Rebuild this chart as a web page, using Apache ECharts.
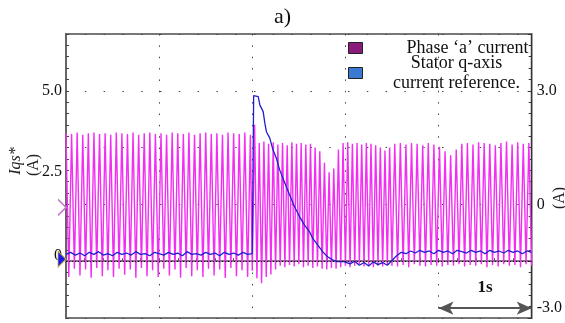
<!DOCTYPE html>
<html>
<head>
<meta charset="utf-8">
<script src="https://cdn.jsdelivr.net/npm/echarts@6/dist/echarts.min.js"></script>
<style>
  html, body { margin: 0; padding: 0; background: #fff; }
  #chart { width: 565px; height: 323px; }
</style>
</head>
<body>
<div id="chart"></div>
<script>
// time in s, current in A (right axis)
const phaseCurrent = [
  [0.00, 1.88], [0.03, -1.92], [0.06, 1.86], [0.09, -1.70], [0.12, 1.90], [0.15, -1.88], [0.18, 1.84], [0.21, -1.72],
  [0.24, 1.88], [0.27, -1.94], [0.30, 1.90], [0.33, -1.68], [0.36, 1.86], [0.39, -1.90], [0.42, 1.88], [0.45, -1.74],
  [0.48, 1.84], [0.51, -1.92], [0.54, 1.90], [0.57, -1.70], [0.60, 1.88], [0.63, -1.86], [0.66, 1.86], [0.69, -1.72],
  [0.72, 1.90], [0.75, -1.94], [0.78, 1.84], [0.81, -1.68], [0.84, 1.88], [0.87, -1.90], [0.90, 1.90], [0.93, -1.74],
  [0.96, 1.86], [0.99, -1.92], [1.02, 1.88], [1.05, -1.70], [1.08, 1.84], [1.11, -1.88], [1.14, 1.90], [1.17, -1.72],
  [1.20, 1.88], [1.23, -1.94], [1.26, 1.86], [1.29, -1.68], [1.32, 1.90], [1.35, -1.90], [1.38, 1.84], [1.41, -1.74],
  [1.44, 1.88], [1.47, -1.92], [1.50, 1.90], [1.53, -1.70], [1.56, 1.86], [1.59, -1.88], [1.62, 1.88], [1.65, -1.72],
  [1.68, 1.84], [1.71, -1.94], [1.74, 1.90], [1.77, -1.68], [1.80, 1.88], [1.83, -1.90], [1.86, 1.86], [1.89, -1.74],
  [1.92, 1.90], [1.95, -1.92], [1.98, 1.84],
  [2.00, -1.75], [2.025, 2.10], [2.05, -1.95], [2.075, 1.62], [2.10, -2.08],
  [2.125, 1.66], [2.150, -1.92], [2.175, 1.60], [2.200, -1.85], [2.225, 1.64], [2.250, -1.72], [2.275, 1.58], [2.300, -1.62],
  [2.325, 1.62], [2.350, -1.66], [2.375, 1.56], [2.400, -1.60], [2.425, 1.64], [2.450, -1.64], [2.475, 1.60], [2.500, -1.58],
  [2.525, 1.62], [2.550, -1.66], [2.575, 1.58], [2.600, -1.62], [2.625, 1.60], [2.650, -1.68], [2.675, 1.50], [2.700, -1.64],
  [2.725, 1.40], [2.750, -1.70], [2.775, 1.10], [2.800, -1.72], [2.825, 0.85], [2.850, -1.68], [2.875, 0.95], [2.900, -1.70],
  [2.925, 1.45], [2.950, -1.66], [2.975, 1.62], [3.000, -1.62], [3.025, 1.64], [3.050, -1.66], [3.075, 1.60], [3.100, -1.62],
  [3.125, 1.62], [3.150, -1.58], [3.175, 1.58], [3.200, -1.64], [3.225, 1.62], [3.250, -1.60], [3.275, 1.60], [3.300, -1.66],
  [3.325, 1.56], [3.350, -1.62], [3.375, 1.50], [3.400, -1.64], [3.425, 1.42], [3.450, -1.60], [3.475, 1.50], [3.500, -1.62],
  [3.53, 1.60], [3.56, -1.64], [3.59, 1.62], [3.62, -1.60], [3.65, 1.58], [3.68, -1.66], [3.71, 1.62], [3.74, -1.58],
  [3.77, 1.60], [3.80, -1.62], [3.83, 1.56], [3.86, -1.64], [3.89, 1.62], [3.92, -1.60], [3.95, 1.58], [3.98, -1.62],
  [4.01, 1.52], [4.04, -1.64], [4.07, 1.40], [4.10, -1.60], [4.13, 1.30], [4.16, -1.62], [4.19, 1.45], [4.22, -1.58],
  [4.25, 1.60], [4.28, -1.64], [4.31, 1.62], [4.34, -1.60], [4.37, 1.58], [4.40, -1.62], [4.43, 1.64], [4.46, -1.58],
  [4.49, 1.62], [4.52, -1.66], [4.55, 1.60], [4.58, -1.60], [4.61, 1.56], [4.64, -1.64], [4.67, 1.62], [4.70, -1.58],
  [4.73, 1.66], [4.76, -1.62], [4.79, 1.58], [4.82, -1.60], [4.85, 1.64], [4.88, -1.66], [4.91, 1.60], [4.94, -1.58],
  [4.97, 1.62], [5.00, -1.62]
]

// time in s, Iqs* in A (left axis)
const qRef = [
  [0.00, 0.20], [0.05, 0.26], [0.10, 0.18], [0.15, 0.24], [0.20, 0.16], [0.25, 0.26], [0.30, 0.20], [0.35, 0.28],
  [0.40, 0.18], [0.45, 0.22], [0.50, 0.16], [0.55, 0.26], [0.60, 0.20], [0.65, 0.24], [0.70, 0.18], [0.75, 0.28],
  [0.80, 0.20], [0.85, 0.22], [0.90, 0.16], [0.95, 0.26], [1.00, 0.22], [1.05, 0.18], [1.10, 0.26], [1.15, 0.20],
  [1.20, 0.24], [1.25, 0.16], [1.30, 0.28], [1.35, 0.20], [1.40, 0.22], [1.45, 0.18], [1.50, 0.26], [1.55, 0.20],
  [1.60, 0.24], [1.65, 0.16], [1.70, 0.26], [1.75, 0.20], [1.80, 0.24], [1.85, 0.18], [1.90, 0.26], [1.95, 0.20],
  [2.00, 0.22], [2.01, 0.22], [2.015, 4.86], [2.028, 4.86], [2.064, 4.83], [2.082, 4.58], [2.117, 4.39], [2.135, 4.05],
  [2.152, 3.80], [2.188, 3.61], [2.223, 3.26], [2.259, 3.02], [2.294, 2.68], [2.330, 2.43], [2.365, 2.19], [2.401, 1.94],
  [2.454, 1.60], [2.507, 1.31], [2.561, 1.06], [2.614, 0.87], [2.649, 0.67], [2.702, 0.48], [2.755, 0.28], [2.809, 0.13],
  [2.862, 0.04], [2.915, -0.01], [2.986, -0.01], [3.05, -0.08], [3.10, 0.00], [3.15, -0.12], [3.20, -0.04], [3.25, -0.14],
  [3.30, -0.02], [3.35, -0.10], [3.40, -0.04], [3.45, -0.12], [3.50, 0.02], [3.55, 0.16], [3.60, 0.26], [3.65, 0.22],
  [3.70, 0.30], [3.75, 0.24], [3.80, 0.32], [3.85, 0.26], [3.90, 0.30], [3.95, 0.22], [4.00, 0.32], [4.05, 0.26],
  [4.10, 0.30], [4.15, 0.22], [4.20, 0.32], [4.25, 0.28], [4.30, 0.24], [4.35, 0.32], [4.40, 0.26], [4.45, 0.30],
  [4.50, 0.22], [4.55, 0.32], [4.60, 0.26], [4.65, 0.30], [4.70, 0.24], [4.75, 0.32], [4.80, 0.26], [4.85, 0.30],
  [4.90, 0.22], [4.95, 0.30], [5.00, 0.26]
]

const leftTicks = [0, 2.5, 5]
const rightTicks = [-3, 0, 3]
const scaleBar = [4, 5] // the "1s" arrow, in s
const scaleBarLevel = -2.74

const PHASE = 'Phase \u2018a\u2019 current'
const QREF = 'Stator q-axis current reference'
const serif = '"Liberation Serif", "DejaVu Serif", serif'

const chart = echarts.init(document.getElementById('chart'))

chart.setOption({
  animation: false,
  backgroundColor: '#fff',
  title: {
    text: 'a)',
    left: 'center',
    top: 1,
    textStyle: { fontFamily: serif, fontSize: 22, fontWeight: 'normal', color: '#111' },
  },
  legend: {
    orient: 'vertical',
    left: 348,
    top: 38,
    padding: 0,
    itemWidth: 14,
    itemHeight: 11,
    itemGap: -5,
    icon: 'rect',
    selectedMode: false,
    data: [
      { name: PHASE, itemStyle: { color: '#8b1a7b', borderColor: '#222', borderWidth: 1 } },
      { name: QREF, itemStyle: { color: '#3a7ad2', borderColor: '#222', borderWidth: 1 } },
    ],
    formatter: (name) => (name === PHASE ? `{p|${name}}` : '{s|Stator q-axis}\n{s|current reference.}'),
    textStyle: {
      fontFamily: serif,
      fontSize: 18,
      color: '#111',
      lineHeight: 20,
      rich: {
        p: { width: 161, align: 'right', fontFamily: serif, fontSize: 18, color: '#111', lineHeight: 20 },
        s: { width: 178, align: 'center', fontFamily: serif, fontSize: 18, color: '#111', lineHeight: 20 },
      },
    },
  },
  grid: { left: 66, right: 30, top: 34, bottom: 5, show: true, borderColor: '#777', borderWidth: 2 },
  xAxis: {
    type: 'value',
    min: 0,
    max: 5,
    interval: 1,
    axisLine: { show: true, lineStyle: { color: '#777', width: 2 } },
    axisTick: { show: true, inside: true, length: 3, lineStyle: { color: '#555' } },
    minorTick: { show: true, splitNumber: 5, length: 3, lineStyle: { color: '#555' } },
    axisLabel: { show: false },
    splitLine: { show: true, lineStyle: { color: '#444', width: 1, type: [1.5, 9.86] } },
  },
  yAxis: [
    {
      // Iqs* scale, left
      type: 'value',
      position: 'left',
      min: -5 / 3,
      max: 20 / 3,
      axisLine: { show: false },
      axisTick: { show: false },
      splitLine: { show: false },
      axisLabel: {
        customValues: leftTicks,
        margin: 4,
        color: '#111',
        fontFamily: serif,
        fontSize: 16,
        formatter: (v) => (v === 0 ? '{z|0}' : v === 2.5 ? '{h|2.5}' : v.toFixed(1)),
        rich: {
          z: { fontFamily: serif, fontSize: 16, color: '#111', padding: [0, 0, 10, 0] },
          h: { fontFamily: serif, fontSize: 16, color: '#111', padding: [0, 0, 8, 0] },
        },
      },
    },
    {
      // phase current scale, right
      type: 'value',
      position: 'right',
      min: -3,
      max: 4.5,
      interval: 1.5,
      axisLine: { show: true, lineStyle: { color: '#333', width: 1 } },
      axisTick: { show: true, inside: true, length: 4, lineStyle: { color: '#333' } },
      minorTick: { show: true, splitNumber: 5, length: 3, lineStyle: { color: '#333' } },
      splitLine: { show: true, lineStyle: { color: '#444', width: 1, type: [1.5, 17.3] } },
      axisLabel: {
        margin: 5,
        color: '#111',
        fontFamily: serif,
        fontSize: 16,
        formatter: (v) => {
          if (!rightTicks.includes(v)) return ''
          if (v === -3) return '{l|-3.0}'
          return v === 0 ? '0' : v.toFixed(1)
        },
        rich: { l: { fontFamily: serif, fontSize: 16, color: '#111', padding: [0, 0, 20, 0] } },
      },
    },
    {
      // left frame ticks
      type: 'value',
      position: 'left',
      min: -3,
      max: 4.5,
      interval: 1.5,
      axisLine: { show: true, lineStyle: { color: '#666', width: 2 } },
      axisTick: { show: true, inside: true, length: 3, lineStyle: { color: '#444' } },
      minorTick: { show: true, splitNumber: 5, length: 3, lineStyle: { color: '#444' } },
      axisLabel: { show: false },
      splitLine: { show: false },
    },
  ],
  graphic: [
    { type: 'text', x: 16, y: 161, rotation: Math.PI / 2,
      style: { text: 'Iqs*', font: `italic 16px ${serif}`, fill: '#222', align: 'center', verticalAlign: 'middle' } },
    { type: 'text', x: 34, y: 165, rotation: Math.PI / 2,
      style: { text: '(A)', font: `16px ${serif}`, fill: '#222', align: 'center', verticalAlign: 'middle' } },
    { type: 'text', x: 560, y: 198, rotation: Math.PI / 2,
      style: { text: '(A)', font: `16px ${serif}`, fill: '#222', align: 'center', verticalAlign: 'middle' } },
  ],
  series: [
    {
      name: PHASE,
      type: 'line',
      yAxisIndex: 1,
      data: phaseCurrent,
      showSymbol: false,
      color: '#8b1a7b',
      lineStyle: { color: '#f22ef2', width: 1.4 },
      markPoint: {
        symbol: 'path://M0,0L8,8L0,16',
        symbolSize: [8, 16],
        symbolOffset: [-4, 3],
        label: { show: false },
        itemStyle: { color: 'none', borderColor: '#c878c8', borderWidth: 1.5 },
        data: [{ coord: [0, 0] }],
      },
      markLine: {
        silent: true,
        symbol: ['arrow', 'arrow'],
        symbolSize: [10, 15],
        lineStyle: { color: '#555', width: 2, type: 'solid' },
        label: { show: true, formatter: '1s', position: 'insideMiddleTop', distance: 12,
          fontFamily: serif, fontSize: 17, fontWeight: 'bold', color: '#111' },
        data: [[{ coord: [scaleBar[0], scaleBarLevel] }, { coord: [scaleBar[1], scaleBarLevel] }]],
      },
    },
    {
      name: QREF,
      type: 'line',
      yAxisIndex: 0,
      data: qRef,
      showSymbol: false,
      color: '#3a7ad2',
      lineStyle: { color: '#1f1fd0', width: 1.3 },
      markPoint: {
        symbol: 'triangle',
        symbolSize: [16, 8],
        symbolRotate: -90,
        symbolOffset: [-4, -2],
        label: { show: false },
        itemStyle: { color: '#1a1aee', borderColor: '#c8b040', borderWidth: 1 },
        data: [{ coord: [0, 0] }],
      },
      markLine: {
        silent: true,
        symbol: 'none',
        lineStyle: { color: '#111', width: 1, type: [1, 2] },
        label: { show: false },
        data: [{ yAxis: 0 }],
      },
    },
  ],
})
</script>
</body>
</html>
